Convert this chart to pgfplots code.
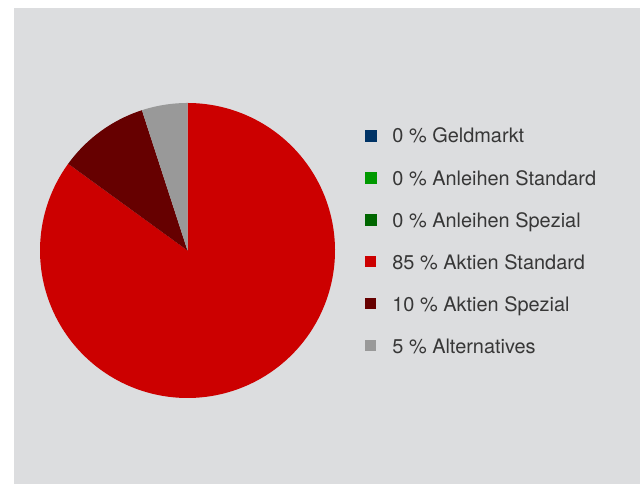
\documentclass[border=0pt]{standalone}
\usepackage{fontspec}
\setmainfont{TeX Gyre Heros}
\usepackage{pgfplots}
\usepackage{pgfplotstable}
\pgfplotsset{compat=1.18}

\definecolor{bgc}{RGB}{220,221,223}
\definecolor{cGeld}{RGB}{0,51,102}
\definecolor{cAnlStd}{RGB}{0,153,0}
\definecolor{cAnlSpz}{RGB}{0,102,0}
\definecolor{cAktStd}{RGB}{204,0,0}
\definecolor{cAktSpz}{RGB}{102,0,0}
\definecolor{cAlt}{RGB}{153,153,153}
\definecolor{txt}{RGB}{55,55,55}

% shares in percent: Geldmarkt, Anleihen Std, Anleihen Spez, Aktien Std, Aktien Spez, Alternatives
\pgfplotstableread{
share
0
0
0
85
10
5
}\shares

\begin{document}
\begin{tikzpicture}[x=1bp,y=1bp]
\pgfplotstablegetelem{3}{share}\of\shares \edef\sAktStd{\pgfplotsretval}
\pgfplotstablegetelem{4}{share}\of\shares \edef\sAktSpz{\pgfplotsretval}
\pgfplotstablegetelem{5}{share}\of\shares \edef\sAlt{\pgfplotsretval}
\pgfmathsetmacro\aA{90}
\pgfmathsetmacro\aB{\aA-3.6*\sAktStd}
\pgfmathsetmacro\aC{\aB-3.6*\sAktSpz}
\pgfmathsetmacro\aD{\aC-3.6*\sAlt}
\useasboundingbox (0,0) rectangle (640,485);
\fill[bgc] (14,1) rectangle (640,477);
\begin{axis}[
    at={(187.5bp,234.5bp)}, anchor=origin,
    scale only axis,
    width=626bp, height=476bp,
    xmin=-1.17627, xmax=3.06780,
    ymin=-1.58305, ymax=1.64407,
    hide axis,
    legend cell align=left,
    legend style={
        at={(0.5607,0.7479)}, anchor=north west,
        draw=none, fill=none, inner sep=0pt, outer sep=0pt,
        font=\fontsize{20}{24}\selectfont, text=txt,
        row sep=23.1bp,
        nodes={inner xsep=0pt, inner ysep=0pt, text height=15bp, text depth=4bp},
        /tikz/every odd column/.style={column sep=16bp},
    },
    legend image code/.code={\fill[#1] (0bp,-3.5bp) rectangle (11bp,7.5bp);},
]
\addlegendimage{cGeld}
\addlegendentry{0 \% Geldmarkt}
\addlegendimage{cAnlStd}
\addlegendentry{0 \% Anleihen Standard}
\addlegendimage{cAnlSpz}
\addlegendentry{0 \% Anleihen Spezial}

\addplot[fill=cAktStd, draw=none, domain=\aB:\aA, samples=240]
    ({cos(x)},{sin(x)}) -- (axis cs:0,0) -- cycle;
\addlegendentry{85 \% Aktien Standard}
\addplot[fill=cAktSpz, draw=none, domain=\aC:\aB, samples=40]
    ({cos(x)},{sin(x)}) -- (axis cs:0,0) -- cycle;
\addlegendentry{10 \% Aktien Spezial}
\addplot[fill=cAlt, draw=none, domain=\aD:\aC, samples=30]
    ({cos(x)},{sin(x)}) -- (axis cs:0,0) -- cycle;
\addlegendentry{5 \% Alternatives}
\end{axis}
\end{tikzpicture}
\end{document}
